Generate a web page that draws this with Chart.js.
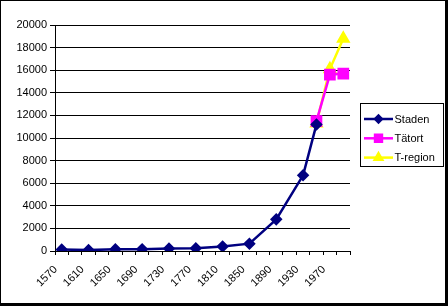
<!DOCTYPE html>
<html>
<head>
<meta charset="utf-8">
<script src="https://cdn.jsdelivr.net/npm/chart.js@4/dist/chart.umd.min.js"></script>
<style>
  html, body { margin: 0; padding: 0; background: #fff; }
  #wrap {
    width: 448px; height: 306px; box-sizing: border-box;
    border: 1px solid #000; border-right-width: 3px; border-bottom-width: 3px;
  }
  canvas { display: block; }
</style>
</head>
<body>
<div id="wrap"><canvas id="chart" width="444" height="302"></canvas></div>
<script>
// categories (every second one is labelled in the picture)
const years = ["1570", "1590", "1610", "1630", "1650", "1670", "1690", "1710", "1730", "1750", "1770",
  "1790", "1810", "1830", "1850", "1870", "1890", "1910", "1930", "1950", "1970", "1990"];

const staden = [130, null, 80, null, 150, null, 160, null, 220, null, 240,
  null, 400, null, 650, null, 2800, null, 6700, 11200, null, null];
const tatort = [null, null, null, null, null, null, null, null, null, null, null,
  null, null, null, null, null, null, null, null, 11500, 15600, 15700];
const tregion = [null, null, null, null, null, null, null, null, null, null, null,
  null, null, null, null, null, null, null, null, 11300, 16100, 18800];

const yTicks = { min: 0, max: 20000, step: 2000 };

const FONT = { family: "'Liberation Sans', Arial, sans-serif", size: 11 };

const series = [
  { label: "Staden", data: staden, color: "#000080", style: "rectRot", radius: 4.5 },
  { label: "Tätort", data: tatort, color: "#FF00FF", style: "rect", radius: 6.5 },
  { label: "T-region", data: tregion, color: "#FFFF00", style: "triangle", radius: 5.8 },
];

// Excel-style legend box: line with marker in the middle
const excelLegend = {
  id: "excelLegend",
  afterDraw(chart) {
    const ctx = chart.ctx;
    const x0 = 359, y0 = 102, w = 83, h = 63;
    ctx.save();
    ctx.fillStyle = "#fff";
    ctx.fillRect(x0, y0, w, h);
    ctx.strokeStyle = "#000";
    ctx.lineWidth = 1;
    ctx.strokeRect(x0 + 0.5, y0 + 0.5, w, h);
    ctx.font = FONT.size + "px " + FONT.family;
    ctx.textBaseline = "middle";
    series.forEach((s, i) => {
      const y = 118 + i * 19.3;
      ctx.strokeStyle = s.color;
      ctx.lineWidth = 2.5;
      ctx.beginPath();
      ctx.moveTo(363, y);
      ctx.lineTo(392, y);
      ctx.stroke();
      ctx.fillStyle = s.color;
      Chart.helpers.drawPoint(ctx, { pointStyle: s.style, radius: s.radius * 0.75, borderWidth: 1 }, 377.5, y);
      ctx.fillStyle = "#000";
      ctx.fillText(s.label, 393.5, y + 0.5);
    });
    ctx.restore();
  }
};

new Chart(document.getElementById("chart"), {
  type: "line",
  data: {
    labels: years,
    datasets: series.map((s) => ({
      label: s.label,
      data: s.data,
      borderColor: s.color,
      backgroundColor: s.color,
      borderWidth: 2.5,
      pointStyle: s.style,
      pointRadius: s.radius,
      pointBorderColor: s.color,
      pointBackgroundColor: s.color,
      spanGaps: true,
      tension: 0,
    })),
  },
  options: {
    responsive: false,
    animation: false,
    events: [],
    layout: { padding: { top: 24, right: 95, left: 0, bottom: 0 } },
    plugins: { legend: { display: false }, tooltip: { enabled: false } },
    scales: {
      x: {
        offset: true,
        afterFit: (scale) => { scale.height = 52; },
        grid: {
          offset: true,
          drawOnChartArea: false,
          color: "#000",
          tickLength: 4,
        },
        border: { color: "#000", width: 1 },
        ticks: {
          autoSkip: false,
          minRotation: 45,
          maxRotation: 45,
          color: "#000",
          font: FONT,
          padding: 8,
          labelOffset: -6,
          callback: (v, i) => (i % 2 === 0 ? years[i] : ""),
        },
      },
      y: {
        min: yTicks.min,
        max: yTicks.max,
        afterFit: (scale) => { scale.width = 54; },
        grid: { display: true, drawOnChartArea: true, drawTicks: true, color: "#000000", lineWidth: 1, tickLength: 5 },
        border: { display: true, color: "#000", width: 1 },
        ticks: {
          stepSize: yTicks.step,
          color: "#000",
          font: FONT,
          padding: 3,
          callback: (v) => String(v),
        },
      },
    },
  },
  plugins: [excelLegend],
});
</script>
</body>
</html>
